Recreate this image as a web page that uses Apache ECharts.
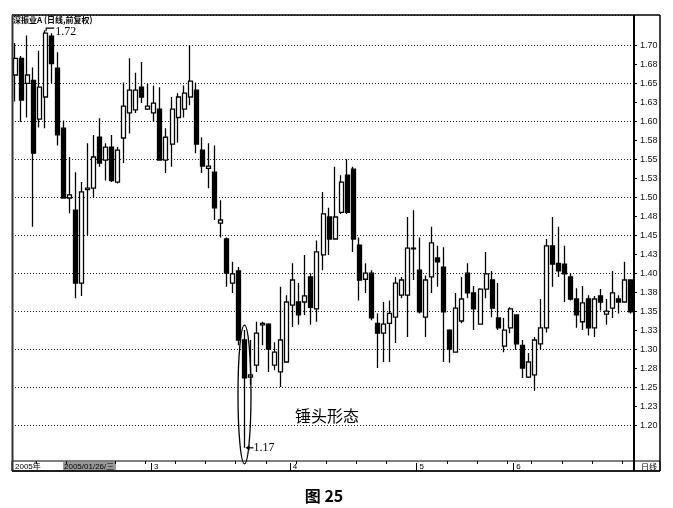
<!DOCTYPE html>
<html><head><meta charset="utf-8">
<script src="https://cdn.jsdelivr.net/npm/echarts@6/dist/echarts.min.js"></script>
<style>html,body{margin:0;padding:0;background:#fff;}#c{width:673px;height:508px;}</style>
</head><body><div id="c"></div>
<script>
// trading days shown (2005)
const tradingDays = [
  ['2005-01', [18,19,20,21,24,25,26,27,28,31]],
  ['2005-02', [1,2,3,4,16,17,18,21,22,23,24,25,28]],
  ['2005-03', [1,2,3,4,7,8,9,10,11,14,15,16,17,18,21,22,23,24,25,28,29,30,31]],
  ['2005-04', [1,4,5,6,7,8,11,12,13,14,15,18,19,20,21,22,25,26,27,28,29]],
  ['2005-05', [9,10,11,12,13,16,17,18,19,20,23,24,25,26,27,30]],
  ['2005-06', [1,2,3,6,7,8,9,10,13,14,15,16,17,20,21,22,23,24,27,28]]
];
const categories = [];
tradingDays.forEach(([m, days]) => days.forEach(d => categories.push(m + '-' + String(d).padStart(2, '0'))));

const openVals = [
1.661,1.683,1.650,1.654,1.603,1.632,1.712,1.670,1.591,1.499,
1.483,1.387,1.510,1.512,1.579,1.549,1.566,1.520,1.578,1.611,
1.615,1.645,1.616,1.611,1.616,1.549,1.570,1.605,1.616,1.632,
1.641,1.562,1.538,1.533,1.466,1.445,1.387,1.403,1.312,1.263,
1.279,1.332,1.333,1.279,1.270,1.283,1.358,1.362,1.362,1.395,
1.353,1.424,1.474,1.445,1.480,1.529,1.537,1.437,1.392,1.400,
1.334,1.321,1.334,1.342,1.371,1.371,1.433,1.404,1.342,1.395,
1.420,1.408,1.325,1.296,1.337,1.400,1.374,1.333,1.379,1.391,
1.341,1.304,1.328,1.345,1.305,1.263,1.266,1.307,1.328,1.436,
1.413,1.412,1.395,1.366,1.336,1.366,1.328,1.370,1.346,1.354,
1.366,1.362,1.391];
const closeVals = [
1.683,1.628,1.661,1.558,1.645,1.716,1.676,1.582,1.499,1.503,
1.387,1.507,1.512,1.553,1.545,1.566,1.522,1.562,1.620,1.641,
1.641,1.632,1.620,1.624,1.549,1.579,1.616,1.632,1.637,1.653,
1.570,1.541,1.541,1.486,1.470,1.400,1.399,1.312,1.262,1.266,
1.321,1.334,1.300,1.296,1.312,1.362,1.391,1.345,1.370,1.355,
1.428,1.478,1.445,1.474,1.520,1.480,1.445,1.391,1.400,1.341,
1.321,1.333,1.347,1.387,1.391,1.433,1.432,1.349,1.391,1.440,
1.415,1.349,1.300,1.354,1.366,1.374,1.353,1.379,1.399,1.354,
1.328,1.325,1.353,1.307,1.275,1.283,1.312,1.328,1.436,1.412,
1.403,1.399,1.366,1.345,1.361,1.328,1.366,1.362,1.350,1.374,
1.362,1.391,1.349];
const lowVals = [
1.626,1.599,1.605,1.461,1.592,1.591,1.650,1.568,1.499,1.479,
1.367,1.370,1.450,1.499,1.540,1.522,1.520,1.518,1.545,1.584,
1.611,1.624,1.615,1.599,1.549,1.532,1.540,1.572,1.605,1.621,
1.558,1.532,1.512,1.470,1.447,1.382,1.374,1.305,1.170,1.253,
1.270,1.305,1.270,1.272,1.250,1.283,1.329,1.332,1.345,1.332,
1.336,1.404,1.424,1.445,1.478,1.478,1.428,1.364,1.374,1.338,
1.275,1.283,1.283,1.308,1.367,1.316,1.391,1.347,1.316,1.374,
1.382,1.283,1.282,1.296,1.334,1.367,1.325,1.332,1.367,1.342,
1.325,1.296,1.321,1.299,1.262,1.262,1.245,1.299,1.322,1.382,
1.395,1.362,1.364,1.328,1.325,1.318,1.316,1.351,1.332,1.341,
1.347,1.361,1.347];
const highVals = [
1.703,1.686,1.713,1.671,1.693,1.720,1.716,1.691,1.601,1.553,
1.533,1.520,1.571,1.582,1.604,1.571,1.582,1.566,1.651,1.683,
1.664,1.678,1.649,1.647,1.645,1.591,1.632,1.637,1.647,1.700,
1.651,1.579,1.571,1.568,1.496,1.447,1.415,1.408,1.325,1.312,
1.336,1.336,1.334,1.309,1.382,1.371,1.413,1.387,1.424,1.400,
1.443,1.507,1.486,1.540,1.529,1.550,1.540,1.447,1.413,1.404,
1.347,1.362,1.364,1.395,1.395,1.474,1.483,1.447,1.397,1.461,
1.436,1.434,1.326,1.374,1.395,1.413,1.383,1.380,1.428,1.403,
1.387,1.341,1.355,1.346,1.312,1.295,1.316,1.366,1.445,1.474,
1.461,1.436,1.400,1.380,1.383,1.371,1.370,1.379,1.366,1.403,
1.371,1.415,1.392];

const yTickValues = [1.20,1.225,1.25,1.275,1.30,1.325,1.35,1.375,1.40,1.425,1.45,1.475,1.50,1.525,1.55,1.575,1.60,1.625,1.65,1.675,1.70];
const yTickLabels = ['1.20','1.23','1.25','1.28','1.30','1.33','1.35','1.38','1.40','1.43','1.45','1.48','1.50','1.53','1.55','1.58','1.60','1.63','1.65','1.68','1.70'];
const titleText = '深振业A (日线,前复权)';
const yearLabel = '2005年';
const cursorLabel = '2005/01/26/三';
const noteText = '锤头形态';
const captionText = '图 25';
const periodText = '日线';

const monthStart = categories.map((c, i) => i > 0 && c.slice(0, 7) !== categories[i - 1].slice(0, 7));
const candleData = categories.map((c, i) => [openVals[i], closeVals[i], lowVals[i], highVals[i]]);

function yLabel(v) {
  const k = Math.round((v - 1.20) / 0.025);
  if (k < 0 || k >= yTickLabels.length) return '';
  if (Math.abs(v - yTickValues[k]) > 1e-6) return '';
  return yTickLabels[k];
}

const chart = echarts.init(document.getElementById('c'), null, {renderer: 'canvas'});
const option = {
  animation: false,
  backgroundColor: '#fff',
  title: {
    text: titleText, left: 13, top: 16, padding: 0,
    textStyle: {fontSize: 8, fontWeight: 'bold', color: '#000', fontFamily: 'Noto Sans CJK SC'}
  },
  grid: {left: 12, right: 39, top: 15, bottom: 45},
  xAxis: {
    type: 'category', data: categories, boundaryGap: true, z: 10,
    axisLine: {show: false},
    axisTick: {show: true, interval: (i) => monthStart[i], length: 8, lineStyle: {color: '#000', width: 1}},
    axisLabel: {
      interval: (i) => i === 0 || monthStart[i],
      formatter: (v, i) => i === 0 ? yearLabel : String(parseInt(v.slice(5, 7), 10)),
      fontSize: 8, color: '#000', align: 'left', margin: 0,
      fontFamily: 'Liberation Sans, Noto Sans CJK SC'
    },
    splitLine: {show: false}
  },
  yAxis: [
    {
      type: 'value', position: 'right', min: 1.15, max: 1.74, interval: 0.025,
      axisLine: {show: false},
      axisTick: {show: true, length: 3, customValues: yTickValues, lineStyle: {color: '#000'}},
      axisLabel: {formatter: yLabel, customValues: yTickValues, fontSize: 9, color: '#111', margin: 6, fontFamily: 'Liberation Sans'},
      splitLine: {show: false}
    },
    {
      type: 'value', position: 'right', min: 1.15, max: 1.74, interval: 0.05,
      axisLine: {show: false}, axisTick: {show: false}, axisLabel: {show: false},
      splitLine: {show: true, lineStyle: {color: '#222', type: [1, 2], width: 1}}
    }
  ],
  series: [{
    type: 'candlestick', data: candleData, yAxisIndex: 0, xAxisIndex: 0,
    barWidth: 4.5,
    itemStyle: {color: '#fff', color0: '#000', borderColor: '#000', borderColor0: '#000', borderWidth: 1.3}
  }]
};
chart.setOption(option);

// annotations derived from the data through the chart's scales
const px = (i, v) => chart.convertToPixel({seriesIndex: 0}, [i, v]);
let maxIdx = 0, minIdx = 0;
highVals.forEach((v, i) => { if (v > highVals[maxIdx]) maxIdx = i; });
lowVals.forEach((v, i) => { if (v < lowVals[minIdx]) minIdx = i; });
const pMax = px(maxIdx, highVals[maxIdx]);
const pMin = px(minIdx, lowVals[minIdx]);
const pMinTop = px(minIdx, highVals[minIdx]);
const slot = px(1, 1.3)[0] - px(0, 1.3)[0];

const g = [];
// bottom date bar
g.push({type: 'rect', z: 1, shape: {x: 12, y: 461, width: 648, height: 10}, style: {fill: '#fff', stroke: '#000', lineWidth: 1}});
// frame
g.push({type: 'line', z: 60, shape: {x1: 12, y1: 15, x2: 660, y2: 15}, style: {stroke: '#000', lineWidth: 1.5}});
g.push({type: 'line', z: 60, shape: {x1: 12.5, y1: 15, x2: 12.5, y2: 471}, style: {stroke: '#333', lineWidth: 2}});
g.push({type: 'line', z: 60, shape: {x1: 660, y1: 15, x2: 660, y2: 471}, style: {stroke: '#000', lineWidth: 1.5}});
g.push({type: 'line', z: 60, shape: {x1: 12, y1: 471, x2: 660, y2: 471}, style: {stroke: '#000', lineWidth: 1.5}});
g.push({type: 'line', z: 60, shape: {x1: 634, y1: 15, x2: 634, y2: 471}, style: {stroke: '#000', lineWidth: 2}});
// weekly ticks
categories.forEach((c, i) => {
  if (i === 0 || monthStart[i]) return;
  if (new Date(c + 'T00:00:00Z').getUTCDay() !== 1) return;
  const x = Math.round(px(i, 1.3)[0] - slot / 2) + 0.5;
  g.push({type: 'line', z: 60, shape: {x1: x, y1: 461, x2: x, y2: 464}, style: {stroke: '#000', lineWidth: 1}});
});
// cursor date box
g.push({type: 'rect', z: 55, shape: {x: 63, y: 462, width: 53, height: 8}, style: {fill: '#999'}});
g.push({type: 'text', z: 56, style: {text: cursorLabel, x: 64, y: 466.5, textVerticalAlign: 'middle', fontSize: 8, fontFamily: 'Liberation Sans, Noto Sans CJK SC', fill: '#000'}});
g.push({type: 'text', z: 56, style: {text: periodText, x: 641, y: 466.5, textVerticalAlign: 'middle', fontSize: 8, fontFamily: 'Noto Sans CJK SC', fill: '#000'}});
// max marker
g.push({type: 'polyline', z: 60, shape: {points: [[pMax[0] + 1, pMax[1] + 1], [pMax[0] + 1, pMax[1] - 2], [pMax[0] + 9, pMax[1] - 2]]}, style: {stroke: '#000', lineWidth: 1.2, fill: 'none'}});
g.push({type: 'text', z: 60, style: {text: highVals[maxIdx].toFixed(2), x: pMax[0] + 10, y: pMax[1] + 2, textVerticalAlign: 'middle', fontSize: 12, fontFamily: 'Liberation Serif', fill: '#000'}});
// min marker
g.push({type: 'line', z: 60, shape: {x1: pMin[0] + 2, y1: pMin[1], x2: pMin[0] + 9, y2: pMin[1]}, style: {stroke: '#000', lineWidth: 1.2}});
g.push({type: 'polygon', z: 60, shape: {points: [[pMin[0] + 1, pMin[1]], [pMin[0] + 5, pMin[1] - 2.5], [pMin[0] + 5, pMin[1] + 2.5]]}, style: {fill: '#000'}});
g.push({type: 'text', z: 60, style: {text: lowVals[minIdx].toFixed(2), x: pMin[0] + 9, y: pMin[1], textVerticalAlign: 'middle', fontSize: 12, fontFamily: 'Liberation Serif', fill: '#000'}});
// hammer ellipse
const eTop = pMinTop[1] - 5, eBot = pMin[1] + 16;
g.push({type: 'ellipse', z: 60, shape: {cx: pMin[0], cy: (eTop + eBot) / 2, rx: 6.5, ry: (eBot - eTop) / 2}, style: {fill: 'none', stroke: '#000', lineWidth: 1.3}});
// note and caption
g.push({type: 'text', z: 60, style: {text: noteText, x: 295, y: 416, textVerticalAlign: 'middle', fontSize: 16, fontFamily: 'Noto Sans CJK SC', fill: '#000'}});
g.push({type: 'text', z: 60, style: {text: captionText, x: 324, y: 496, textAlign: 'center', textVerticalAlign: 'middle', fontSize: 16, fontWeight: 'bold', fontFamily: 'Noto Sans CJK SC', fill: '#000'}});
chart.setOption({graphic: g});
</script>
</body></html>
